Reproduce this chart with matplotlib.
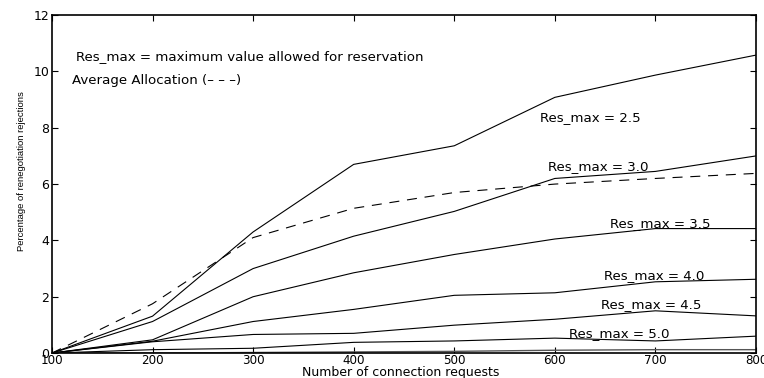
import matplotlib
matplotlib.use('Agg')
import matplotlib.pyplot as plt
from matplotlib import font_manager

# data
requests = [100, 200, 300, 400, 500, 600, 700, 800]
res_25 = [0, 1.31, 4.3, 6.7, 7.36, 9.08, 9.87, 10.58]
res_30 = [0, 1.12, 3.0, 4.15, 5.03, 6.2, 6.45, 7.0]
res_35 = [0, 0.47, 2.0, 2.85, 3.5, 4.05, 4.42, 4.42]
res_40 = [0, 0.42, 1.12, 1.55, 2.05, 2.14, 2.53, 2.62]
res_45 = [0, 0.4, 0.66, 0.7, 0.99, 1.2, 1.5, 1.32]
res_50 = [0, 0.12, 0.17, 0.38, 0.43, 0.53, 0.43, 0.6]
res_low = [0, 0.0, 0.02, 0.04, 0.06, 0.1, 0.12, 0.12]
avg_alloc = [0, 1.75, 4.1, 5.14, 5.7, 6.0, 6.2, 6.38]

series_labels = ['Res_max = 2.5', 'Res_max = 3.0', 'Res_max = 3.5',
                 'Res_max = 4.0', 'Res_max = 4.5', 'Res_max = 5.0']
label_x = [585, 593, 655, 649, 646, 614]
label_y = [8.38, 6.62, 4.6, 2.77, 1.74, 0.71]

xticks = [100, 200, 300, 400, 500, 600, 700, 800]
yticks = [0, 2, 4, 6, 8, 10, 12]

plt.rcParams['font.family'] = ['DejaVu Sans']

# narrow font for the y label if there is one
names = set(f.name for f in font_manager.fontManager.ttflist)
if 'Liberation Sans Narrow' in names:
    ylab_font, ylab_size = 'Liberation Sans Narrow', 8
else:
    ylab_font, ylab_size = 'Liberation Sans', 6.8

fig = plt.figure(figsize=(7.64, 3.78), dpi=100)
ax = fig.add_axes([0.068, 0.066, 0.9215, 0.894])

for ys in [res_25, res_30, res_35, res_40, res_45, res_50]:
    ax.plot(requests, ys, color='black', linewidth=0.8)
ax.plot(requests, res_low, color='#555555', linewidth=1.0)
ax.plot(requests, avg_alloc, color='black', linewidth=0.8, dashes=(9, 7))

txt_size = 9.6
for lab, x, y in zip(series_labels, label_x, label_y):
    ax.text(x, y, lab, fontsize=txt_size, ha='left', va='center')

ax.text(124, 10.54, 'Res_max = maximum value allowed for reservation',
        fontsize=txt_size, ha='left', va='center')
ax.text(120, 9.69, 'Average Allocation (\u2013 \u2013 \u2013)',
        fontsize=txt_size, ha='left', va='center')

ax.set_xlim(100, 800)
ax.set_ylim(0, 12)
ax.set_xticks(xticks)
ax.set_yticks(yticks)
ax.tick_params(direction='in', top=True, right=True, length=4,
               labelsize=9, pad=2)
ax.tick_params(axis='x', pad=0.5, labelsize=8.6)
for sp in ax.spines.values():
    sp.set_linewidth(1.2)

ax.set_xlabel('Number of connection requests', fontsize=9, va='center')
ax.xaxis.set_label_coords(0.496, -0.058)
ax.set_ylabel('Percentage of renegotiation rejections', fontsize=ylab_size,
              family=[ylab_font, 'DejaVu Sans'], va='center')
ax.yaxis.set_label_coords(-0.043, 0.54)

fig.savefig('out.png', dpi=100)
